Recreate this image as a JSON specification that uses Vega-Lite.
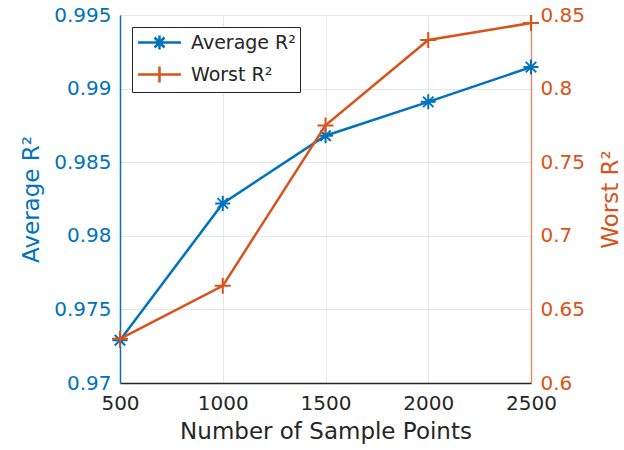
{
  "$schema": "https://vega.github.io/schema/vega-lite/v6.json",
  "width": 411,
  "height": 368,
  "autosize": "none",
  "padding": {"left": 120, "top": 15, "right": 93, "bottom": 67},
  "config": {
    "font": "DejaVu Sans",
    "view": {"stroke": null},
    "axis": {
      "labelFontSize": 20,
      "titleFontSize": 23,
      "titleFontWeight": "normal",
      "ticks": false,
      "gridColor": "#e3e6ea",
      "gridWidth": 1,
      "domainWidth": 1.5,
      "labelFlush": false
    }
  },
  "data": {
    "values": [
      {"n": 500, "series": "Average R²", "v": 0.9729},
      {"n": 1000, "series": "Average R²", "v": 0.9822},
      {"n": 1500, "series": "Average R²", "v": 0.9868},
      {"n": 2000, "series": "Average R²", "v": 0.9891},
      {"n": 2500, "series": "Average R²", "v": 0.99146},
      {"n": 500, "series": "Worst R²", "v": 0.630},
      {"n": 1000, "series": "Worst R²", "v": 0.666},
      {"n": 1500, "series": "Worst R²", "v": 0.775},
      {"n": 2000, "series": "Worst R²", "v": 0.833},
      {"n": 2500, "series": "Worst R²", "v": 0.8445}
    ]
  },
  "encoding": {
    "x": {
      "field": "n",
      "type": "quantitative",
      "scale": {"domain": [500, 2500], "nice": false},
      "axis": {
        "values": [500, 1000, 1500, 2000, 2500],
        "format": "d",
        "title": "Number of Sample Points",
        "labelColor": "#262626",
        "titleColor": "#262626",
        "domainColor": "#262626",
        "labelPadding": 10,
        "titlePadding": 7,
        "grid": true
      }
    }
  },
  "layer": [
    {
      "transform": [{"filter": "datum.series === 'Average R²'"}],
      "encoding": {
        "y": {
          "field": "v",
          "type": "quantitative",
          "scale": {"domain": [0.97, 0.995], "nice": false, "zero": false},
          "axis": {
            "values": [0.97, 0.975, 0.98, 0.985, 0.99, 0.995],
            "format": "~g",
            "title": "Average R²",
            "labelColor": "#0072BD",
            "titleColor": "#0072BD",
            "domainColor": "#0072BD",
            "labelPadding": 9,
            "titlePadding": 10,
            "grid": true
          }
        }
      },
      "layer": [
        {
          "mark": {"type": "line", "strokeWidth": 2.5},
          "encoding": {
            "color": {
              "field": "series",
              "type": "nominal",
              "scale": {"domain": ["Average R²", "Worst R²"], "range": ["#0072BD", "#D95319"]},
              "legend": {
                "title": null,
                "orient": "none",
                "legendX": 12,
                "legendY": 12,
                "padding": 4,
                "fillColor": "white",
                "strokeColor": "#262626",
                "labelFontSize": 19,
                "labelColor": "#262626",
                "symbolSize": 400,
                "symbolStrokeWidth": 2.5,
                "symbolOffset": 12,
                "labelOffset": 20,
                "rowPadding": 6,
                "encode": {
                  "symbols": {
                    "update": {
                      "shape": {"signal": "datum.value === 'Average R²' ? 'M-2.15,0H2.15M0,-0.7V0.7M-0.5,-0.5L0.5,0.5M-0.5,0.5L0.5,-0.5' : 'M-2.15,0H2.15M0,-0.8V0.8'"}
                    }
                  }
                }
              }
            }
          }
        },
        {
          "mark": {
            "type": "point",
            "shape": "M-1,0H1M0,-1V1M-0.7,-0.7L0.7,0.7M-0.7,0.7L0.7,-0.7",
            "size": 225,
            "color": "#0072BD",
            "strokeWidth": 2,
            "filled": false,
            "opacity": 1
          }
        }
      ]
    },
    {
      "transform": [{"filter": "datum.series === 'Worst R²'"}],
      "encoding": {
        "y": {
          "field": "v",
          "type": "quantitative",
          "scale": {"domain": [0.6, 0.85], "nice": false, "zero": false},
          "axis": {
            "orient": "right",
            "values": [0.6, 0.65, 0.7, 0.75, 0.8, 0.85],
            "format": "~g",
            "title": "Worst R²",
            "titleAngle": 270,
            "titleX": 79,
            "titleY": 184,
            "titleAlign": "center",
            "titleBaseline": "middle",
            "labelColor": "#D95319",
            "titleColor": "#D95319",
            "domainColor": "#D95319",
            "domainOpacity": 0.6,
            "labelPadding": 9,
            "grid": false
          }
        }
      },
      "layer": [
        {
          "mark": {"type": "line", "strokeWidth": 2.5},
          "encoding": {
            "color": {"field": "series", "type": "nominal"}
          }
        },
        {
          "mark": {
            "type": "point",
            "shape": "M-1,0H1M0,-1V1",
            "size": 256,
            "color": "#D95319",
            "strokeWidth": 2,
            "filled": false,
            "opacity": 1
          }
        }
      ]
    }
  ],
  "resolve": {"scale": {"y": "independent"}}
}
